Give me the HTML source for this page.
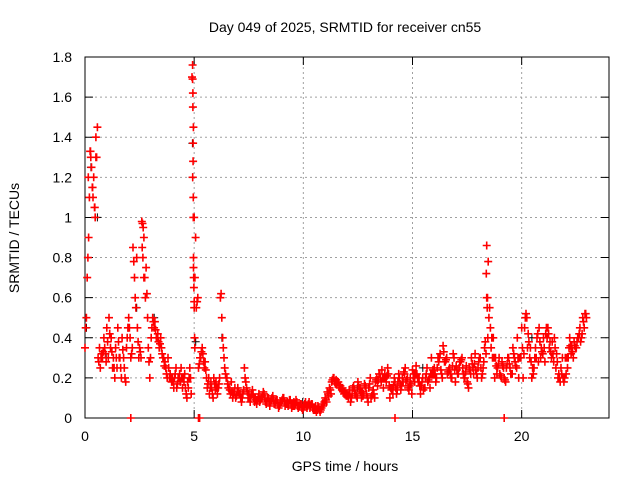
<!DOCTYPE html>
<html><head><meta charset="utf-8">
<style>
body{margin:0;background:#fff;}
svg{display:block;font-family:"Liberation Sans",sans-serif;}
</style></head>
<body>
<svg id="chart" width="640" height="480">
<g id="grid"></g>
<g id="axes"></g>
<path id="marksBlack" fill="none" stroke="#000" stroke-width="1"/>
<path id="marks" fill="none" stroke="#f00" stroke-width="1.6"/>
<text x="345" y="32" text-anchor="middle" font-size="14">Day 049 of 2025, SRMTID for receiver cn55</text>
<text x="345" y="471" text-anchor="middle" font-size="14">GPS time / hours</text>
<text transform="translate(19,238) rotate(-90)" text-anchor="middle" font-size="14">SRMTID / TECUs</text>
</svg>
<script>
const xTicks=[0,5,10,15,20];
const yTicks=[0,0.2,0.4,0.6,0.8,1,1.2,1.4,1.6,1.8];
const yTickLabels=["0","0.2","0.4","0.6","0.8","1","1.2","1.4","1.6","1.8"];
const hours=[0,0.1,0.2,0.3,0.4,0.5,0.6,0.7,0.8,0.9,1,1.1,1.2,1.3,1.4,1.5,1.6,1.7,1.8,1.9,2,2.1,2.2,2.3,2.4,2.5,2.6,2.7,2.8,2.9,3,3.1,3.2,3.3,3.4,3.5,3.6,3.7,3.8,3.9,4,4.1,4.2,4.3,4.4,4.5,4.6,4.7,4.8,4.9,5,5.1,5.2,5.3,5.4,5.5,5.6,5.7,5.8,5.9,6,6.1,6.2,6.3,6.4,6.5,6.6,6.7,6.8,6.9,7,7.1,7.2,7.3,7.4,7.5,7.6,7.7,7.8,7.9,8,8.1,8.2,8.3,8.4,8.5,8.6,8.7,8.8,8.9,9,9.1,9.2,9.3,9.4,9.5,9.6,9.7,9.8,9.9,10,10.1,10.2,10.3,10.4,10.5,10.6,10.7,10.8,10.9,11,11.1,11.2,11.3,11.4,11.5,11.6,11.7,11.8,11.9,12,12.1,12.2,12.3,12.4,12.5,12.6,12.7,12.8,12.9,13,13.1,13.2,13.3,13.4,13.5,13.6,13.7,13.8,13.9,14,14.1,14.2,14.3,14.4,14.5,14.6,14.7,14.8,14.9,15,15.1,15.2,15.3,15.4,15.5,15.6,15.7,15.8,15.9,16,16.1,16.2,16.3,16.4,16.5,16.6,16.7,16.8,16.9,17,17.1,17.2,17.3,17.4,17.5,17.6,17.7,17.8,17.9,18,18.1,18.2,18.3,18.4,18.5,18.6,18.7,18.8,18.9,19,19.1,19.2,19.3,19.4,19.5,19.6,19.7,19.8,19.9,20,20.1,20.2,20.3,20.4,20.5,20.6,20.7,20.8,20.9,21,21.1,21.2,21.3,21.4,21.5,21.6,21.7,21.8,21.9,22,22.1,22.2,22.3,22.4,22.5,22.6,22.7,22.8,22.9];
const valuesA=[
0.35,0.7,1.1,1.25,1.2,1.4,0.3,0.25,0.3,0.35,
0.45,0.5,0.4,0.3,0.35,0.45,0.3,0.4,0.25,0.35,
0.5,0.3,0.85,0.6,0.45,0.35,0.98,0.9,0.75,0.35,
0.3,0.5,0.48,0.4,0.35,0.35,0.3,0.25,0.3,0.22,
0.2,0.2,0.15,0.2,0.25,0.2,0.15,0.18,0.25,1.7,
1.0,0.55,0.25,0.3,0.32,0.28,0.15,0.12,0.15,0.2,
0.18,0.15,0.6,0.4,0.25,0.2,0.15,0.18,0.12,0.1,
0.15,0.12,0.1,0.25,0.15,0.12,0.1,0.12,0.1,0.09,
0.08,0.1,0.12,0.07,0.1,0.08,0.11,0.07,0.09,0.06,
0.08,0.1,0.07,0.06,0.09,0.07,0.06,0.08,0.06,0.07,
0.05,0.08,0.06,0.05,0.07,0.05,0.03,0.05,0.04,0.06,
0.1,0.13,0.15,0.18,0.2,0.19,0.18,0.16,0.15,0.13,
0.12,0.14,0.1,0.16,0.12,0.18,0.15,0.13,0.17,0.12,
0.15,0.1,0.14,0.18,0.16,0.22,0.24,0.2,0.18,0.22,
0.15,0.12,0.18,0.14,0.2,0.16,0.23,0.18,0.15,0.2,
0.24,0.18,0.22,0.2,0.16,0.14,0.2,0.18,0.15,0.22,
0.25,0.2,0.28,0.24,0.36,0.28,0.22,0.25,0.2,0.3,
0.26,0.22,0.28,0.25,0.2,0.18,0.25,0.3,0.22,0.24,
0.25,0.3,0.22,0.35,0.86,0.5,0.35,0.4,0.3,0.25,
0.22,0.28,0.2,0.25,0.3,0.22,0.35,0.28,0.4,0.3,
0.45,0.32,0.52,0.42,0.35,0.25,0.3,0.4,0.45,0.35,
0.4,0.42,0.45,0.38,0.38,0.4,0.32,0.22,0.25,0.2,
0.3,0.25,0.4,0.36,0.38,0.35,0.4,0.38,0.5,0.52];
const valuesB=[
0.5,0.9,1.3,1.1,1.0,1.45,0.35,0.32,0.4,0.28,
0.3,0.35,0.25,0.2,0.25,0.3,0.2,0.3,0.18,0.45,
0.4,0.35,0.7,0.8,0.3,0.3,0.95,0.6,0.5,0.2,
0.45,0.45,0.4,0.38,0.4,0.3,0.28,0.2,0.2,0.18,
0.15,0.25,0.2,0.18,0.15,0.22,0.1,0.2,0.12,1.45,
0.9,0.6,0.3,0.35,0.25,0.2,0.2,0.18,0.1,0.14,
0.12,0.2,0.5,0.3,0.2,0.15,0.12,0.1,0.15,0.13,
0.12,0.08,0.14,0.18,0.1,0.08,0.14,0.08,0.07,0.12,
0.1,0.13,0.08,0.1,0.06,0.1,0.07,0.09,0.05,0.08,
0.1,0.06,0.08,0.09,0.05,0.08,0.09,0.05,0.07,0.04,
0.07,0.05,0.08,0.07,0.04,0.06,0.06,0.03,0.07,0.08,
0.08,0.11,0.12,0.2,0.17,0.18,0.15,0.14,0.12,0.11,
0.1,0.08,0.15,0.12,0.1,0.14,0.1,0.12,0.15,0.08,
0.2,0.12,0.1,0.2,0.22,0.18,0.15,0.2,0.25,0.1,
0.15,0.2,0.12,0.22,0.14,0.18,0.25,0.2,0.16,0.12,
0.22,0.26,0.18,0.12,0.2,0.15,0.25,0.2,0.3,0.22,
0.18,0.3,0.32,0.2,0.28,0.3,0.24,0.2,0.32,0.18,
0.22,0.28,0.3,0.2,0.26,0.15,0.22,0.25,0.32,0.2,
0.3,0.2,0.28,0.32,0.78,0.45,0.3,0.2,0.22,0.3,
0.2,0.25,0.18,0.3,0.25,0.22,0.3,0.25,0.2,0.3,
0.2,0.5,0.35,0.3,0.2,0.25,0.3,0.28,0.3,0.32,
0.28,0.4,0.35,0.3,0.28,0.25,0.2,0.18,0.3,0.2,
0.3,0.35,0.32,0.3,0.35,0.4,0.45,0.42,0.45,0.5];
const valuesC=[
0.45,0.8,1.33,1.15,1.05,1.3,0.28,0.3,0.33,0.32,
0.38,0.42,0.33,0.25,0.3,0.38,0.25,0.34,0.2,0.4,
0.45,0.32,0.78,0.55,0.38,0.33,0.97,0.7,0.62,0.28,
0.4,0.48,0.44,0.42,0.37,0.32,0.26,0.22,0.25,0.2,
0.18,0.22,0.17,0.22,0.2,0.18,0.12,0.15,0.2,1.2,
0.7,0.58,0.27,0.33,0.28,0.24,0.17,0.15,0.12,0.17,
0.15,0.17,0.62,0.35,0.22,0.17,0.14,0.13,0.13,0.11,
0.13,0.1,0.12,0.2,0.13,0.1,0.12,0.1,0.09,0.1,
0.09,0.11,0.1,0.08,0.08,0.09,0.09,0.08,0.07,0.07,
0.09,0.08,0.07,0.07,0.07,0.06,0.07,0.06,0.06,0.05,
0.06,0.06,0.07,0.06,0.05,0.04,0.04,0.04,0.05,0.07,
0.09,0.12,0.14,0.19,0.18,0.17,0.16,0.15,0.13,0.12,
0.11,0.12,0.12,0.14,0.11,0.16,0.13,0.11,0.16,0.1,
0.17,0.11,0.12,0.19,0.19,0.2,0.2,0.22,0.21,0.16,
0.14,0.16,0.15,0.18,0.17,0.2,0.22,0.19,0.14,0.17,
0.2,0.22,0.2,0.16,0.18,0.15,0.22,0.19,0.22,0.24,
0.22,0.25,0.3,0.22,0.33,0.29,0.23,0.22,0.26,0.24,
0.24,0.25,0.29,0.22,0.23,0.17,0.24,0.27,0.27,0.22,
0.28,0.25,0.25,0.38,0.6,0.55,0.4,0.3,0.26,0.27,
0.21,0.26,0.19,0.27,0.27,0.22,0.32,0.26,0.3,0.3,
0.35,0.45,0.5,0.38,0.28,0.22,0.35,0.42,0.38,0.33,
0.35,0.45,0.42,0.33,0.32,0.35,0.28,0.2,0.22,0.18,
0.22,0.3,0.36,0.33,0.36,0.38,0.42,0.4,0.48,0.52];
const spikeHours=[0.15,0.25,0.35,0.45,0.5,4.93,4.93,4.94,4.94,4.95,4.95,4.96,4.96,4.97,4.97,4.98,4.99,5.0,5.0,5.02,5.03,18.38,18.4,18.42,18.45,2.62,2.65,2.7];
const spikeValues=[1.2,1.33,1.15,1.05,1.3,1.76,1.69,1.62,1.55,1.37,1.28,1.1,1.0,0.8,0.75,0.7,0.65,0.58,0.55,0.4,0.35,0.72,0.6,0.55,0.4,0.85,0.8,0.7];
const zeroHours=[2.1,5.2,5.25,14.2,19.2];
const blackHours=[0.1,0.3,0.6,1.0,2.0,2.4,3.2,4.95,4.96,5.1,6.3,8.0,10.0,12.5,15.5,20.5,22.5];
const blackValues=[0.45,1.25,1.0,0.3,0.45,0.55,0.5,1.37,1.2,0.38,0.4,0.1,0.08,0.15,0.25,0.4,0.35];

const L=85,R=609,T=57,B=418,XMAX=24,YMAX=1.8;
const sx=t=>L+t/XMAX*(R-L);
const sy=v=>B-v/YMAX*(B-T);
const NS="http://www.w3.org/2000/svg";
const grid=document.getElementById('grid');
const axes=document.getElementById('axes');
function mk(tag,attrs,parent){const e=document.createElementNS(NS,tag);for(const k in attrs)e.setAttribute(k,attrs[k]);parent.appendChild(e);return e;}
yTicks.forEach((v,i)=>{
  const y=sy(v);
  if(v>0&&v<YMAX){const g=mk('line',{x1:L,x2:R,y1:y,y2:y,stroke:'#a0a0a0','stroke-dasharray':'2,3'},grid);
  
  }
  const tk=mk('path',{d:`M${L},${y}h8M${R},${y}h-8`,stroke:'#000'},axes);
  
  
  const tx=mk('text',{x:L-13,y:y+5,'text-anchor':'end','font-size':'14'},axes);
  tx.textContent=yTickLabels[i];
  
  
});
xTicks.forEach(t=>{
  const x=sx(t);
  if(t>0){const g=mk('line',{x1:x,x2:x,y1:T,y2:B,stroke:'#a0a0a0','stroke-dasharray':'2,3'},grid);
  
  }
  const tk=mk('path',{d:`M${x},${B}v-8M${x},${T}v8`,stroke:'#000'},axes);
  
  
  const tx=mk('text',{x:x,y:B+23,'text-anchor':'middle','font-size':'14'},axes);
  tx.textContent=String(t);
  
  
});
const frame=mk('rect',{x:L,y:T,width:R-L,height:B-T,fill:'none',stroke:'#000'},axes);


function plus(t,v){const x=sx(t),y=sy(v);return `M${(x-4).toFixed(1)},${y.toFixed(1)}h8M${x.toFixed(1)},${(y-4).toFixed(1)}v8`;}
let d='';
hours.forEach((t,i)=>{d+=plus(t,valuesA[i]);d+=plus(t+0.033,valuesC[i]);d+=plus(t+0.066,valuesB[i]);});
spikeHours.forEach((t,i)=>{d+=plus(t,spikeValues[i]);});
zeroHours.forEach(t=>{d+=plus(t,0);});
document.getElementById('marks').setAttribute('d',d);
let db='';
blackHours.forEach((t,i)=>{db+=plus(t-0.03,blackValues[i]);});
document.getElementById('marksBlack').setAttribute('d',db);
</script>
</body></html>
